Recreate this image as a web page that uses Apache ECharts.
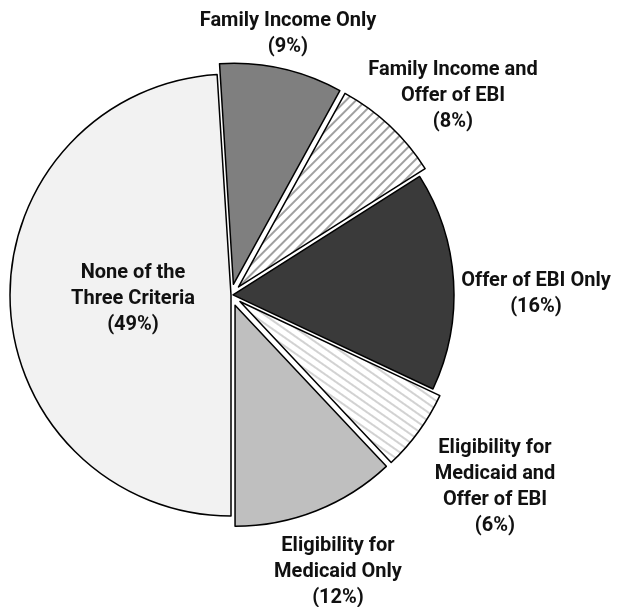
<!DOCTYPE html>
<html>
<head>
<meta charset="utf-8">
<script src="https://cdn.jsdelivr.net/npm/echarts@6/dist/echarts.min.js"></script>
<style>
  html, body { margin: 0; padding: 0; background: #ffffff; }
  #chart { width: 634px; height: 607px; }
</style>
</head>
<body>
<div id="chart"></div>
<script>
// Slice names, in drawing order (clockwise from 6 o'clock)
const categories = [
  'None of the\nThree Criteria',
  'Family Income Only',
  'Family Income and\nOffer of EBI',
  'Offer of EBI Only',
  'Eligibility for\nMedicaid and\nOffer of EBI',
  'Eligibility for\nMedicaid Only'
];
// Share of children in each group (%)
const shares = [49, 9, 8, 16, 6, 12];
// How far each slice is pulled away from the centre: 0 none, 1 slight, 2 full
const pullLevel = [0, 2, 2, 1, 2, 2];

// Label anchor points (pixels), one per slice
const labelAnchors = [
  [133, 299],
  [288, 34],
  [453, 96],
  [536, 294],
  [495, 487],
  [338, 572]
];

const CENTER = [231, 295];
const RADIUS = 221;
const LABEL_FONT = 'Roboto, "DejaVu Sans Condensed", sans-serif';

// Hatched fill: a horizontal stripe tile, turned by the pattern rotation
function stripes(color, gap, width, angle) {
  const c = document.createElement('canvas');
  c.width = 4;
  c.height = gap;
  const g = c.getContext('2d');
  g.fillStyle = '#ffffff';
  g.fillRect(0, 0, 4, gap);
  g.fillStyle = color;
  g.fillRect(0, 0, 4, width);
  return { image: c, repeat: 'repeat', rotation: angle };
}

const fills = [
  '#f2f2f2',
  '#7f7f7f',
  stripes('#a0a0a0', 7, 2, -Math.PI / 4),
  '#3a3a3a',
  stripes('#d2d2d2', 7, 2, 35 * Math.PI / 180),
  '#bfbfbf'
];

const hidden = { color: 'rgba(0,0,0,0)', borderWidth: 0 };

// One sector layer: slices of the given pull level are drawn, the rest are left empty
function sectorLayer(levels, offset) {
  return {
    type: 'pie',
    center: CENTER,
    radius: RADIUS,
    startAngle: -90,
    clockwise: true,
    selectedMode: 'multiple',
    selectedOffset: offset,
    silent: true,
    emphasis: { disabled: true },
    label: { show: false },
    labelLine: { show: false },
    data: categories.map((name, i) => {
      const shown = levels.indexOf(pullLevel[i]) >= 0;
      const style = shown
        ? { color: fills[i], borderColor: '#000000', borderWidth: 1.5 }
        : hidden;
      return {
        name: name,
        value: shares[i],
        selected: shown && pullLevel[i] > 0,
        itemStyle: style,
        select: { itemStyle: style }
      };
    })
  };
}

const chart = echarts.init(document.getElementById('chart'), null, { renderer: 'canvas' });

chart.setOption({
  backgroundColor: '#ffffff',
  animation: false,
  series: [
    sectorLayer([0, 1], 2),
    sectorLayer([2], 11),
    // Text layer carrying the slice labels
    {
      type: 'pie',
      center: CENTER,
      radius: RADIUS,
      startAngle: -90,
      clockwise: true,
      silent: true,
      avoidLabelOverlap: false,
      emphasis: { disabled: true },
      itemStyle: hidden,
      data: categories.map((name, i) => ({ name: name, value: shares[i] })),
      label: {
        show: true,
        position: 'outside',
        formatter: p => p.name + '\n(' + p.value + '%)',
        fontFamily: LABEL_FONT,
        fontWeight: 'bold',
        fontSize: 20,
        lineHeight: 26,
        color: '#111111',
        align: 'center'
      },
      labelLine: { show: false },
      labelLayout: p => ({
        x: labelAnchors[p.dataIndex][0],
        y: labelAnchors[p.dataIndex][1],
        align: 'center',
        verticalAlign: 'middle'
      })
    }
  ]
});
</script>
</body>
</html>
